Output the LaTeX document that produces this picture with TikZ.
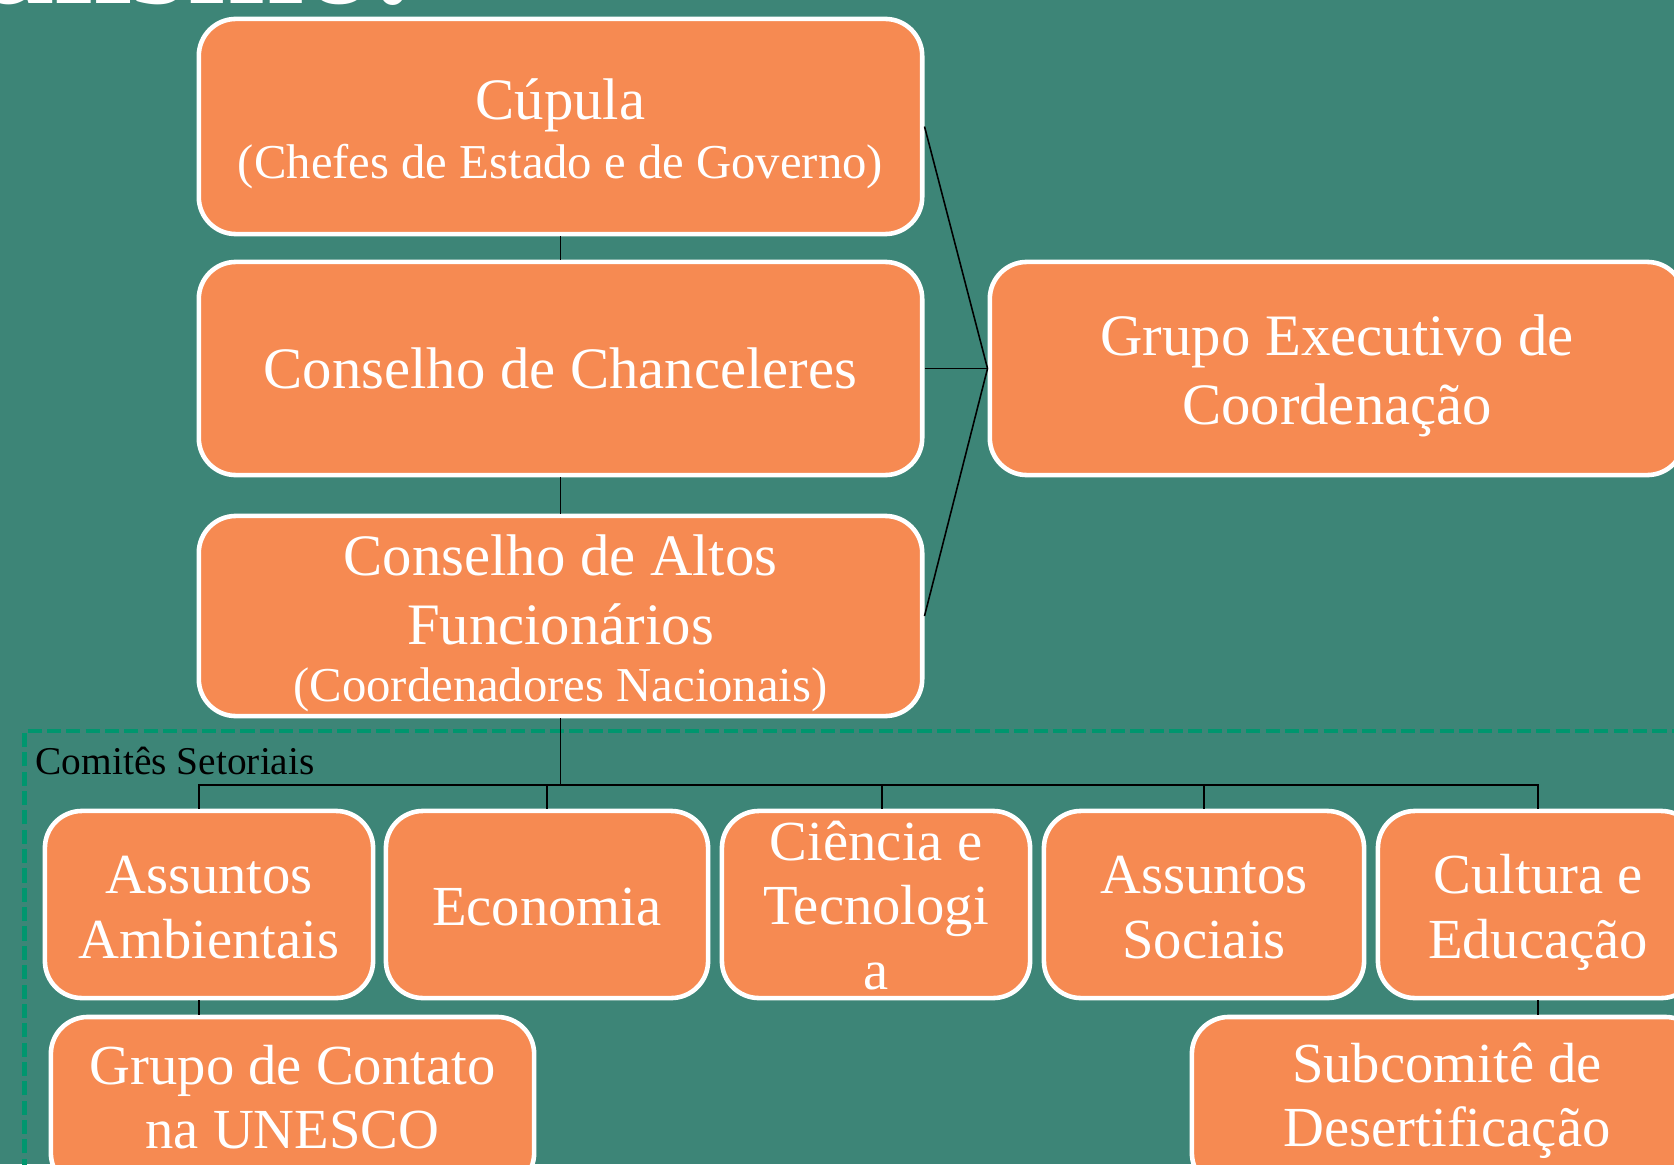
\documentclass[tikz,border=0pt]{standalone}
\usepackage{fontspec}
\setmainfont{Liberation Serif}
\newcommand\mainf{\fontsize{16.7}{19.2}\selectfont}
\newcommand\subf{\fontsize{13.85}{16.5}\selectfont}
\newcommand\rowf{\fontsize{16.1}{18.3}\selectfont}
\definecolor{bg}{RGB}{61,133,119}
\definecolor{org}{RGB}{246,138,82}
\definecolor{dgreen}{RGB}{0,150,110}
\begin{document}
\begin{tikzpicture}[x=0.01cm,y=-0.01cm,
  box/.style={draw=white, line width=1.3pt, fill=org, rounded corners=0.37cm, inner sep=0pt},
  box2/.style={box, minimum height=1.87cm},
  txt/.style={text=white, align=center, inner sep=0pt, font=\mainf},
  txt2/.style={txt, font=\rowf},
  conn/.style={draw=black, line width=0.45pt}]
\fill[bg] (0,0) rectangle (1674,1164);
\useasboundingbox (0,0) rectangle (1674,1164);
\begin{scope}
\clip (0,0) rectangle (1674,1164);
\node[anchor=base east, text=white, font=\fontsize{40}{48}\selectfont\bfseries, inner sep=0pt] (title) at (411,4) {Institucionalismo.};
\draw[dgreen, line width=1.15pt, dash pattern=on 4pt off 1.5pt] (24.5,1250) -- (24.5,731) -- (1750,731);
% boxes
\node[box, minimum width=7.23cm, minimum height=2.15cm] (cupula) at (560.5,126.5) {};
\node[box, minimum width=7.23cm, minimum height=2.13cm] (chanc) at (560.5,368.5) {};
\node[box, minimum width=7.23cm, minimum height=2.0cm] (altos) at (560.5,616) {};
\node[box, minimum width=6.94cm, minimum height=2.13cm] (exec) at (1337,368.5) {};
\node[box2, minimum width=3.28cm] (amb) at (209,904.5) {};
\node[box2, minimum width=3.22cm] (eco) at (547,904.5) {};
\node[box2, minimum width=3.08cm] (cien) at (876,904.5) {};
\node[box2, minimum width=3.20cm] (soc) at (1204,904.5) {};
\node[box2, minimum width=3.20cm] (cult) at (1538,904.5) {};
\node[box, minimum width=4.83cm, minimum height=1.73cm] (contato) at (292.5,1103.5) {};
\node[box, minimum width=5.10cm, minimum height=1.73cm] (subcom) at (1447,1103.5) {};
% texts
\node[txt] (cupulaT) at (560.5,134) {Cúpula\\[-2.4pt]{\subf (Chefes de Estado e de Governo)}};
\node[txt] (chancT) at (560.5,368.5) {Conselho de Chanceleres};
\node[txt] (altosT) at (560.5,623.5) {Conselho de Altos\\[0.3pt]Funcionários\\[-2.8pt]{\subf (Coordenadores Nacionais)}};
\node[txt] (execT) at (1337,376) {Grupo Executivo de\\[0.6pt]Coordenação};
\node[txt2] (ambT) at (209,907.5) {Assuntos\\Ambientais};
\node[txt2] (ecoT) at (547,907.5) {Economia};
\node[txt2] (cienT) at (876,905.5) {Ciência e\\Tecnologi\\a};
\node[txt2] (socT) at (1204,907.5) {Assuntos\\Sociais};
\node[txt2] (cultT) at (1538,912.5) {Cultura e\\Educação};
\node[txt2] (contatoT) at (292.5,1097) {Grupo de Contato\\na UNESCO};
\node[txt2] (subcomT) at (1447,1101) {Subcomitê de\\Desertificação};
\node[anchor=base west, font=\fontsize{11.2}{13}\selectfont, text=black, inner sep=0pt] (comites) at (35,774) {Comitês Setoriais};
% connectors
\draw[conn] (cupula.south) -- (chanc.north);
\draw[conn] (chanc.south) -- (altos.north);
\draw[conn] (cupula.east) -- (exec.west);
\draw[conn] (chanc.east) -- (exec.west);
\draw[conn] (altos.east) -- (exec.west);
\coordinate (bus) at (560.5,785);
\draw[conn] (altos.south) -- (bus);
\draw[conn] ([xshift=-0.1cm]amb.north) |- (bus) -| (cult.north);
\draw[conn] (bus) -| (eco.north);
\draw[conn] (bus) -| ([xshift=0.06cm]cien.north);
\draw[conn] (bus) -| (soc.north);
\draw[conn] ([xshift=-0.1cm]amb.south) -- ([xshift=-0.1cm]amb.south |- contato.north);
\draw[conn] (cult.south) -- (cult.south |- subcom.north);
\end{scope}
\end{tikzpicture}
\end{document}
